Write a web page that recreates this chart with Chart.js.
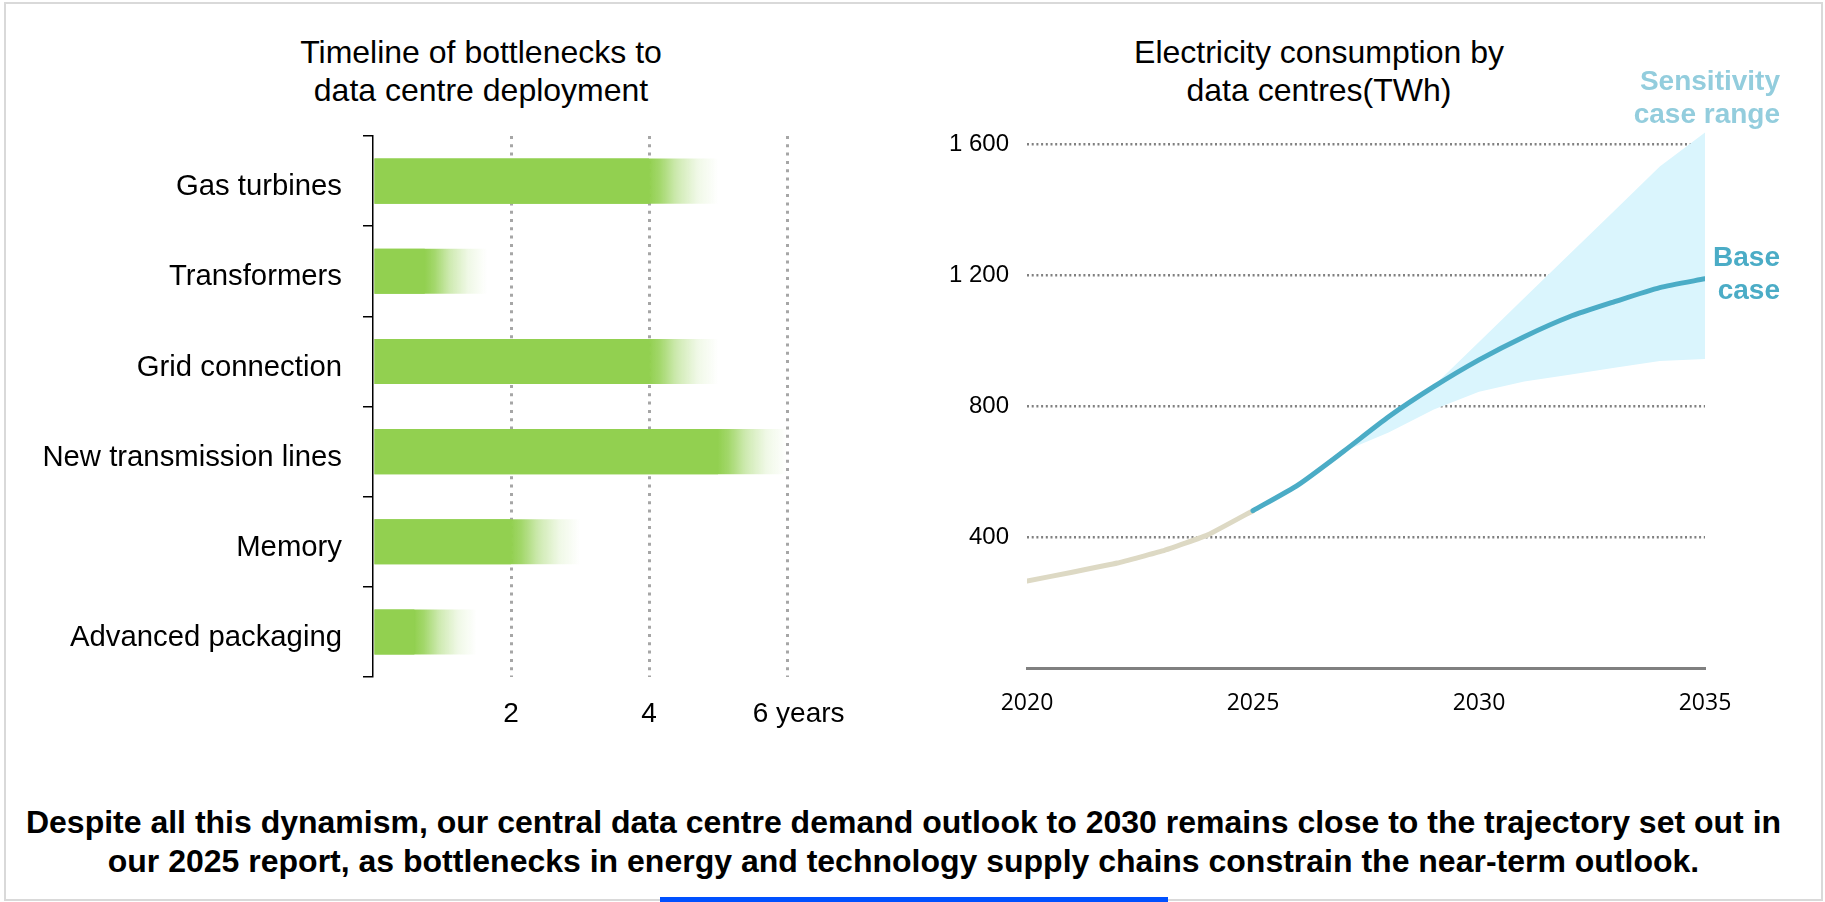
<!DOCTYPE html>
<html>
<head>
<meta charset="utf-8">
<script src="https://cdn.jsdelivr.net/npm/chart.js@4.4.1/dist/chart.umd.min.js"></script>
<style>
  html, body { margin: 0; padding: 0; background: #fff; }
  body { width: 1825px; height: 902px; position: relative; overflow: hidden; font-family: "Liberation Sans", Arial, sans-serif; }
  #frame { position: absolute; left: 4px; top: 2px; border: 2px solid #d9d9d9; box-sizing: border-box; width: 1819px; height: 899px; }
  canvas { position: absolute; }
  .title { position: absolute; font-size: 32px; line-height: 38px; color: #000; text-align: center; transform: translateX(-50%); white-space: nowrap; }
  .lbl { position: absolute; font-weight: bold; font-size: 28px; line-height: 33px; text-align: right; white-space: nowrap; }
  #caption { position: absolute; left: 0; width: 1807px; top: 803px; font-weight: bold; font-size: 32px; line-height: 39px; text-align: center; color: #000; white-space: nowrap; }
  #blue { position: absolute; left: 660px; top: 897px; width: 508px; height: 5px; background: #0050ff; }
</style>
</head>
<body>
<div id="frame"></div>
<div class="title" style="left:481px; top:33px;">Timeline of bottlenecks to<br>data centre deployment</div>
<div class="title" style="left:1319px; top:33px;">Electricity consumption by<br>data centres(TWh)</div>
<canvas id="left" width="880" height="740" style="left:0; top:0; width:880px; height:740px;"></canvas>
<canvas id="right" width="945" height="740" style="left:880px; top:0; width:945px; height:740px;"></canvas>
<div class="lbl" style="right:45px; top:64px; color:#93cddd;">Sensitivity<br>case range</div>
<div class="lbl" style="right:45px; top:240px; color:#4bacc6;">Base<br>case</div>
<div id="caption">Despite all this dynamism, our central data centre demand outlook to 2030 remains close to the trajectory set out in<br>our 2025 report, as bottlenecks in energy and technology supply chains constrain the near-term outlook.</div>
<div id="blue"></div>
<script>
// ---------- Data: timeline of bottlenecks (years) ----------
const bottleneckLabels = ['Gas turbines', 'Transformers', 'Grid connection', 'New transmission lines', 'Memory', 'Advanced packaging'];
const leadTimeSolid = [4, 0.75, 4, 5, 2, 0.6];
const leadTimeMax = [5, 1.65, 5, 6, 3, 1.5];
const yearTicks = [2, 4, 6];

// ---------- Data: electricity consumption by data centres (TWh) ----------
const histYears = [2020, 2021, 2022, 2023, 2024, 2025];
const histTWh = [266, 293, 321, 358, 407, 481];
const baseYears = [2025, 2026, 2027, 2028, 2029, 2030, 2031, 2032, 2033, 2034, 2035];
const baseTWh = [481, 560, 662, 768, 860, 942, 1013, 1074, 1120, 1163, 1190];
const rangeYears = [2027, 2028, 2029, 2030, 2031, 2032, 2033, 2034, 2035];
const rangeLow = [662, 720, 790, 845, 876, 897, 918, 939, 945];
const rangeHigh = [662, 768, 863, 997, 1131, 1265, 1399, 1533, 1637];
const twhTicks = [400, 800, 1200, 1600];
const yearAxisTicks = [2020, 2025, 2030, 2035];

Chart.defaults.font.family = '"Liberation Sans", Arial, sans-serif';
Chart.defaults.color = '#000';

const GREEN = '#92D050';

new Chart(document.getElementById('left'), {
  type: 'bar',
  data: {
    labels: bottleneckLabels,
    datasets: [
      {
        data: leadTimeSolid.map(v => [0, v]),
        backgroundColor: GREEN,
        borderWidth: 0,
        barPercentage: 0.5,
        categoryPercentage: 1,
        grouped: false
      },
      {
        data: leadTimeMax.map(v => [0, v]),
        backgroundColor: (ctx) => {
          const chart = ctx.chart;
          const xs = chart.scales.x;
          if (!chart.chartArea || !xs || ctx.dataIndex === undefined) return 'rgba(146,208,80,0.5)';
          const i = ctx.dataIndex;
          const x0 = xs.getPixelForValue(0);
          const xm = xs.getPixelForValue(leadTimeSolid[i]);
          const x1 = xs.getPixelForValue(leadTimeMax[i]);
          const g = chart.ctx.createLinearGradient(x0, 0, x1, 0);
          const f = (xm - x0) / (x1 - x0);
          const r = 1 - f;
          g.addColorStop(0, 'rgba(146,208,80,1)');
          g.addColorStop(f, 'rgba(146,208,80,1)');
          g.addColorStop(f + r * 0.15, 'rgba(146,208,80,0.85)');
          g.addColorStop(f + r * 0.4, 'rgba(146,208,80,0.45)');
          g.addColorStop(f + r * 0.7, 'rgba(146,208,80,0.14)');
          g.addColorStop(1, 'rgba(146,208,80,0)');
          return g;
        },
        borderWidth: 0,
        barPercentage: 0.5,
        categoryPercentage: 1,
        grouped: false
      }
    ]
  },
  options: {
    indexAxis: 'y',
    responsive: false,
    animation: false,
    devicePixelRatio: 1,
    layout: { padding: { left: 0, right: 93, top: 136, bottom: 0 } },
    plugins: { legend: { display: false }, tooltip: { enabled: false }, title: { display: false } },
    scales: {
      x: {
        type: 'linear',
        min: 0,
        max: 6,
        afterBuildTicks: (s) => { s.ticks = [0].concat(yearTicks).map(v => ({ value: v })); },
        afterFit: (s) => { s.height = 63; },
        ticks: {
          autoSkip: false,
          maxRotation: 0,
          padding: 20,
          font: { size: 28 },
          color: '#000',
          callback: (v) => v === 0 ? '' : (v === 6 ? '\u00a0\u00a0\u00a06 years' : String(v))
        },
        grid: {
          drawTicks: false,
          color: (c) => (c.tick && c.tick.value === 0) ? 'rgba(0,0,0,0)' : '#a6a6a6',
          lineWidth: 3
        },
        border: { display: false, dash: [3, 5.3] }
      },
      y: {
        type: 'category',
        afterFit: (s) => { s.width = 373; },
        ticks: { padding: 21, labelOffset: 6, font: { size: 29.3 }, color: '#000' },
        grid: { offset: true, drawOnChartArea: false, drawTicks: true, tickLength: 10, color: '#000', lineWidth: 1.5 },
        border: { display: true, color: '#000', width: 1.5 }
      }
    }
  }
});

const toXY = (xs, ys) => xs.map((x, i) => ({ x: x, y: ys[i] }));

new Chart(document.getElementById('right'), {
  type: 'line',
  data: {
    datasets: [
      {
        data: toXY(baseYears, baseTWh),
        borderColor: '#4BACC6',
        borderWidth: 5,
        borderCapStyle: 'round',
        pointRadius: 0,
        tension: 0.2,
        fill: false
      },
      {
        data: toXY(histYears, histTWh),
        borderColor: '#DDD9C4',
        borderWidth: 5,
        borderCapStyle: 'round',
        pointRadius: 0,
        tension: 0.1,
        fill: false
      },
      {
        data: toXY(rangeYears, rangeLow),
        borderWidth: 0,
        borderColor: 'rgba(0,0,0,0)',
        backgroundColor: '#DAF5FD',
        pointRadius: 0,
        tension: 0,
        fill: false
      },
      {
        data: toXY(rangeYears, rangeHigh),
        borderWidth: 0,
        borderColor: 'rgba(0,0,0,0)',
        backgroundColor: '#DAF5FD',
        pointRadius: 0,
        tension: 0,
        fill: '-1'
      }
    ]
  },
  options: {
    responsive: false,
    animation: false,
    devicePixelRatio: 1,
    layout: { padding: { left: 0, right: 120, top: 112, bottom: 0 } },
    plugins: { legend: { display: false }, tooltip: { enabled: false }, title: { display: false } },
    scales: {
      x: {
        type: 'linear',
        min: 2020,
        max: 2035,
        afterBuildTicks: (s) => { s.ticks = yearAxisTicks.map(v => ({ value: v })); },
        afterFit: (s) => { s.height = 72; },
        ticks: {
          autoSkip: false,
          maxRotation: 0,
          padding: 22,
          font: { size: 23, family: '"Open Sans", "Liberation Sans", sans-serif' },
          color: '#000',
          callback: (v) => String(v)
        },
        grid: { display: false, drawTicks: false },
        border: { display: true, color: '#808080', width: 3 }
      },
      y: {
        type: 'linear',
        min: 0,
        max: 1700,
        afterBuildTicks: (s) => { s.ticks = [0].concat(twhTicks).map(v => ({ value: v })); },
        afterFit: (s) => { s.width = 147; },
        ticks: {
          padding: 18,
          font: { size: 24 },
          color: '#000',
          callback: (v) => v === 0 ? '' : String(v).replace(/\B(?=(\d{3})+(?!\d))/g, ' ')
        },
        grid: {
          drawTicks: false,
          color: (c) => (c.tick && c.tick.value === 0) ? 'rgba(0,0,0,0)' : '#808080',
          lineWidth: 2.5
        },
        border: { display: false, dash: [2, 2.7] }
      }
    }
  }
});
</script>
</body>
</html>
